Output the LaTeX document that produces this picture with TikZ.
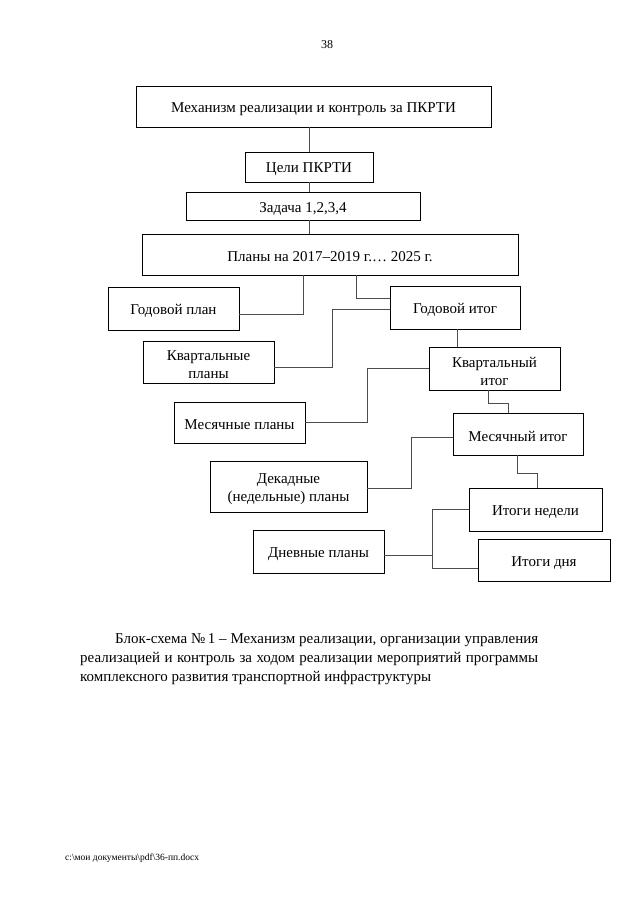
\documentclass[tikz,border=0pt]{standalone}
\usepackage{fontspec}
\setmainfont{Liberation Serif}
\begin{document}
\begin{tikzpicture}[x=1pt,y=-1pt,inner sep=1mm]
    \tikzstyle{block}=[rectangle,draw=black,line width=0.8pt,align=center,font=\fontsize{15}{18}\selectfont,
        execute at begin node=\rule{0pt}{15pt}]
    \tikzstyle{link}=[draw=black!70,line width=0.8pt]
    \useasboundingbox (0,0) rectangle (640,905);
    \node (page) at (327,45) {\fontsize{12}{14}\selectfont 38};

    % top of the scheme
    \node[block,minimum width=355pt,minimum height=41pt] (mech) at (313.5,106.5) {Механизм реализации и контроль за ПКРТИ};
    \node[block,minimum width=128pt,minimum height=30pt] (goal) at (309,167) {Цели ПКРТИ};
    \node[block,minimum width=234pt,minimum height=28pt] (task) at (303,206) {Задача 1,2,3,4};
    \node[block,minimum width=376pt,minimum height=41pt] (plans) at (330,254.5) {Планы на 2017–2019 г.… 2025 г.};
    \foreach \a/\b in {mech/goal,goal/task,task/plans} {
        \draw[link] (goal.north |- \a.south) -- (goal.north |- \b.north);
    };

    % plans (left) and results (right)
    \node[block,minimum width=131pt,minimum height=43pt] (yplan) at (173.5,308.5) {Годовой план};
    \node[block,minimum width=130pt,minimum height=43pt] (yres) at (455,307.5) {Годовой итог};
    \node[block,minimum width=131pt,minimum height=42pt] (qplan) at (208.5,362) {\rule{0pt}{16pt}Квартальные\\планы};
    \node[block,minimum width=131pt,minimum height=43pt] (qres) at (494.5,368.5) {\rule{0pt}{16pt}Квартальный\\итог};
    \node[block,minimum width=131pt,minimum height=41pt] (mplan) at (239.5,422.5) {Месячные планы};
    \node[block,minimum width=130pt,minimum height=42pt] (mres) at (518,434) {Месячный итог};
    \node[block,minimum width=157pt,minimum height=51pt] (dplan) at (288.5,486.5) {\rule{0pt}{16pt}Декадные\\(недельные) планы};
    \node[block,minimum width=133pt,minimum height=43pt] (wres) at (535.5,509.5) {Итоги недели};
    \node[block,minimum width=131pt,minimum height=43pt] (daypl) at (318.5,551.5) {Дневные планы};
    \node[block,minimum width=132pt,minimum height=42pt] (dayres) at (544,560) {Итоги дня};

    \draw[link] ([xshift=-27pt]plans.south) |- ([yshift=-5.5pt]yplan.east);
    \draw[link] ([xshift=26pt]plans.south) |- ([yshift=9.5pt]yres.west);
    \draw[link] ([yshift=-5pt]qplan.east) -- ++(58,0) |- ([yshift=-1.5pt]yres.west);
    \draw[link] ([xshift=2pt]yres.south) -- ([xshift=2pt]yres.south |- qres.north);
    \draw[link] (mplan.east) -- ++(62,0) |- (qres.west);
    \draw[link] ([xshift=-6.5pt]qres.south) -- ++(0,13) -| ([xshift=-9.5pt]mres.north);
    \draw[link] ([yshift=-1.5pt]dplan.east) -- ++(44,0) |- ([yshift=-3pt]mres.west);
    \draw[link] ([xshift=-1pt]mres.south) -- ++(0,18) -| ([xshift=1.5pt]wres.north);
    \draw[link] ([yshift=-3.5pt]daypl.east) -- ++(48,0) coordinate (fork);
    \draw[link] (fork) |- (wres.west);
    \draw[link] (fork) |- ([yshift=-8pt]dayres.west);

    \node[anchor=north west,inner sep=0pt,text width=458pt,align=justify,font=\fontsize{15}{19}\selectfont] (caption) at (80,633)
        {\hspace*{35pt}Блок-схема №\,1 – Механизм реализации, организации управления\linebreak
         реализацией и контроль за ходом реализации мероприятий программы\linebreak
         комплексного развития транспортной инфраструктуры};
    \node[anchor=west,inner sep=0pt,font=\fontsize{9.5}{11}\selectfont] (file) at (65,858)
        {c:\textbackslash мои документы\textbackslash pdf\textbackslash 36-пп.docx};
\end{tikzpicture}
\end{document}
